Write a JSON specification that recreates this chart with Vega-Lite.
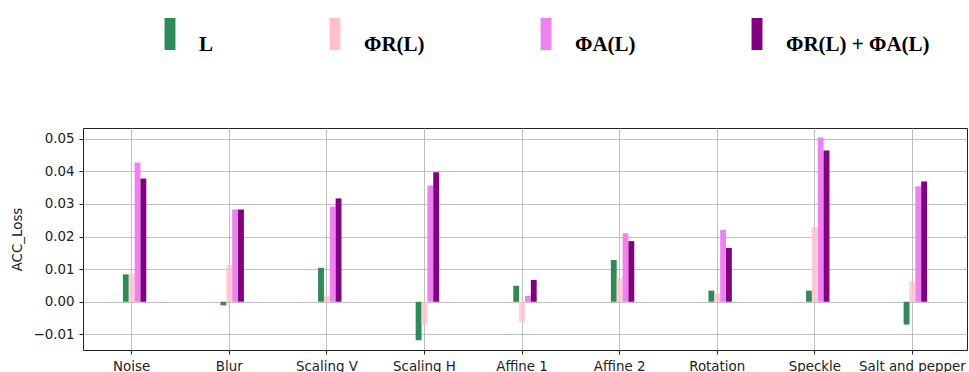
{
  "$schema": "https://vega.github.io/schema/vega-lite/v6.json",
  "autosize": {"type": "none"},
  "width": 884,
  "height": 222,
  "padding": {"left": 83, "top": 128, "right": 2, "bottom": 22},
  "background": "white",
  "data": {
    "values": [
      {"cond": "Noise", "series": "L", "value": 0.0084},
      {"cond": "Noise", "series": "ΦR(L)", "value": 0.0086},
      {"cond": "Noise", "series": "ΦA(L)", "value": 0.0427},
      {"cond": "Noise", "series": "ΦR(L) + ΦA(L)", "value": 0.0378},
      {"cond": "Blur", "series": "L", "value": -0.0011},
      {"cond": "Blur", "series": "ΦR(L)", "value": 0.0112},
      {"cond": "Blur", "series": "ΦA(L)", "value": 0.0283},
      {"cond": "Blur", "series": "ΦR(L) + ΦA(L)", "value": 0.0283},
      {"cond": "Scaling V", "series": "L", "value": 0.0104},
      {"cond": "Scaling V", "series": "ΦR(L)", "value": 0.0018},
      {"cond": "Scaling V", "series": "ΦA(L)", "value": 0.0292},
      {"cond": "Scaling V", "series": "ΦR(L) + ΦA(L)", "value": 0.0317},
      {"cond": "Scaling H", "series": "L", "value": -0.0118},
      {"cond": "Scaling H", "series": "ΦR(L)", "value": -0.0072},
      {"cond": "Scaling H", "series": "ΦA(L)", "value": 0.0357},
      {"cond": "Scaling H", "series": "ΦR(L) + ΦA(L)", "value": 0.0397},
      {"cond": "Affine 1", "series": "L", "value": 0.0049},
      {"cond": "Affine 1", "series": "ΦR(L)", "value": -0.0062},
      {"cond": "Affine 1", "series": "ΦA(L)", "value": 0.0018},
      {"cond": "Affine 1", "series": "ΦR(L) + ΦA(L)", "value": 0.0067},
      {"cond": "Affine 2", "series": "L", "value": 0.0128},
      {"cond": "Affine 2", "series": "ΦR(L)", "value": 0.0073},
      {"cond": "Affine 2", "series": "ΦA(L)", "value": 0.0210},
      {"cond": "Affine 2", "series": "ΦR(L) + ΦA(L)", "value": 0.0186},
      {"cond": "Rotation", "series": "L", "value": 0.0034},
      {"cond": "Rotation", "series": "ΦR(L)", "value": 0.0025},
      {"cond": "Rotation", "series": "ΦA(L)", "value": 0.0220},
      {"cond": "Rotation", "series": "ΦR(L) + ΦA(L)", "value": 0.0165},
      {"cond": "Speckle", "series": "L", "value": 0.0034},
      {"cond": "Speckle", "series": "ΦR(L)", "value": 0.0229},
      {"cond": "Speckle", "series": "ΦA(L)", "value": 0.0504},
      {"cond": "Speckle", "series": "ΦR(L) + ΦA(L)", "value": 0.0464},
      {"cond": "Salt and pepper", "series": "L", "value": -0.0070},
      {"cond": "Salt and pepper", "series": "ΦR(L)", "value": 0.0063},
      {"cond": "Salt and pepper", "series": "ΦA(L)", "value": 0.0354},
      {"cond": "Salt and pepper", "series": "ΦR(L) + ΦA(L)", "value": 0.0369}
    ]
  },
  "mark": {"type": "bar", "orient": "vertical"},
  "encoding": {
    "x": {
      "field": "cond",
      "type": "nominal",
      "sort": null,
      "scale": {"paddingInner": 0.7, "paddingOuter": 0.379, "align": 0.46},
      "axis": {
        "title": null,
        "labelAngle": 0,
        "bandPosition": 0.5,
        "grid": true,
        "gridColor": "#b0b0b0",
        "gridWidth": 0.8,
        "domain": false,
        "tickColor": "#222222",
        "tickSize": 4,
        "labelFont": "DejaVu Sans",
        "labelFontSize": 13.4,
        "labelColor": "#222222",
        "labelPadding": 5
      }
    },
    "xOffset": {
      "field": "series",
      "type": "nominal",
      "scale": {
        "domain": ["_gap", "L", "ΦR(L)", "ΦA(L)", "ΦR(L) + ΦA(L)"],
        "paddingInner": 0,
        "paddingOuter": 0
      }
    },
    "y": {
      "field": "value",
      "type": "quantitative",
      "scale": {"domain": [-0.0148, 0.0533], "nice": false, "zero": false},
      "axis": {
        "title": "ACC_Loss",
        "titleFont": "DejaVu Sans",
        "titleFontSize": 13.4,
        "titleFontWeight": "normal",
        "titleColor": "#222222",
        "titlePadding": 8,
        "values": [-0.01, 0, 0.01, 0.02, 0.03, 0.04, 0.05],
        "format": ".2f",
        "grid": true,
        "gridColor": "#b0b0b0",
        "gridWidth": 0.8,
        "domain": false,
        "tickColor": "#222222",
        "tickSize": 4,
        "labelFont": "DejaVu Sans",
        "labelFontSize": 13.4,
        "labelColor": "#222222",
        "labelPadding": 5
      }
    },
    "color": {
      "field": "series",
      "type": "nominal",
      "scale": {
        "domain": ["L", "ΦR(L)", "ΦA(L)", "ΦR(L) + ΦA(L)"],
        "range": ["#2e8b57", "#ffc0cb", "#ee82ee", "#800080"]
      },
      "legend": {
        "title": null,
        "orient": "none",
        "direction": "horizontal",
        "legendX": 71,
        "legendY": -110,
        "symbolType": "M-0.34,-1 L0.34,-1 L0.34,1 L-0.34,1 Z",
        "symbolSize": 1024,
        "symbolStrokeWidth": 0,
        "symbolOpacity": 1,
        "labelFont": "Liberation Serif",
        "labelFontSize": 21,
        "labelFontWeight": "bold",
        "labelBaseline": "top",
        "labelColor": "#000000",
        "labelOffset": 13,
        "labelLimit": 400,
        "columnPadding": 105,
        "encode": {
          "symbols": {"update": {"fillOpacity": {"value": 1}, "opacity": {"value": 1}}}
        }
      }
    },
    "fillOpacity": {
      "condition": {"test": "datum.series === 'ΦR(L)'", "value": 0.8},
      "value": 1
    }
  },
  "config": {
    "view": {"stroke": "#222222", "strokeWidth": 1}
  }
}
